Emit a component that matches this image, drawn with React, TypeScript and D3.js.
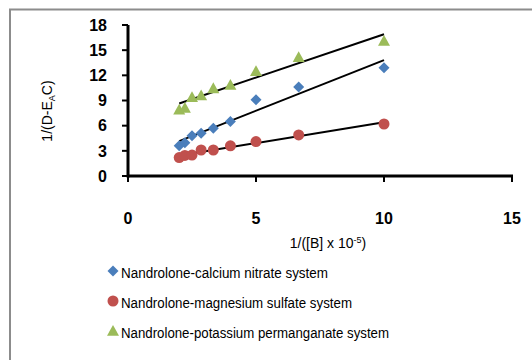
import React from "react";
import * as d3 from "d3";

const xValues = [2, 2.222, 2.5, 2.857, 3.333, 4, 5, 6.667, 10];
const calciumY = [3.6, 3.95, 4.8, 5.1, 5.7, 6.5, 9.1, 10.6, 12.9];
const magnesiumY = [2.2, 2.45, 2.5, 3.1, 3.1, 3.6, 4.1, 4.9, 6.2];
const permanganateY = [7.9, 8.1, 9.4, 9.6, 10.45, 10.85, 12.5, 14.15, 16.1];
const xTicks = [0, 5, 10, 15];
const yTicks = [0, 3, 6, 9, 12, 15, 18];
const seriesNames = [
  "Nandrolone-calcium nitrate system",
  "Nandrolone-magnesium sulfate system",
  "Nandrolone-potassium permanganate system",
];
const legendWidths = [207, 231, 268];
const seriesColors = ["#4a7ebb", "#c0504d", "#9bbb59"];

function regression(xs: number[], ys: number[]) {
  const mx = d3.mean(xs)!;
  const my = d3.mean(ys)!;
  let sxy = 0, sxx = 0;
  xs.forEach((x, i) => { sxy += (x - mx) * (ys[i] - my); sxx += (x - mx) ** 2; });
  const b = sxy / sxx;
  return (x: number) => my + b * (x - mx);
}

function Marker({ kind, x, y, color }: { kind: number; x: number; y: number; color: string }) {
  if (kind === 0) {
    const s = 5.5;
    return <path d={`M${x},${y - s}L${x + s},${y}L${x},${y + s}L${x - s},${y}Z`} fill={color} />;
  }
  if (kind === 1) return <circle cx={x} cy={y} r={5.5} fill={color} />;
  const s = 6;
  return <path d={`M${x},${y - s}L${x + s},${y + s * 0.8}L${x - s},${y + s * 0.8}Z`} fill={color} />;
}

export default function App() {
  const x = d3.scaleLinear().domain([0, 15]).range([128, 512]);
  const y = d3.scaleLinear().domain([0, 18]).range([176, 25]);
  const series = [calciumY, magnesiumY, permanganateY];
  const font = "'Liberation Sans', Arial, sans-serif";
  return (
    <svg width={532} height={360} style={{ position: "absolute", left: 0, top: 0 }} fontFamily={font}>
      <rect x={0} y={0} width={532} height={360} fill="#fff" />
      <path d="M10,360V9.5H532" fill="none" stroke="#8c8c8c" strokeWidth={2} />
      {series.map((ys, si) => {
        const f = regression(xValues, ys);
        const x0 = d3.min(xValues)!, x1 = d3.max(xValues)!;
        return (
          <line key={"t" + si} x1={x(x0)} y1={y(f(x0))} x2={x(x1)} y2={y(f(x1))} stroke="#000" strokeWidth={2} />
        );
      })}
      {series.map((ys, si) =>
        ys.map((v, i) => <Marker key={si + "-" + i} kind={si} x={x(xValues[i])} y={y(v)} color={seriesColors[si]} />)
      )}
      <line x1={x(0)} y1={y(0)} x2={x(15) + 1} y2={y(0)} stroke="#000" strokeWidth={3} />
      <line x1={x(0)} y1={y(0) + 1.5} x2={x(0)} y2={y(18)} stroke="#000" strokeWidth={3} />
      {yTicks.map((t) => (
        <g key={"y" + t}>
          <line x1={x(0) - 6} x2={x(0)} y1={y(t)} y2={y(t)} stroke="#000" strokeWidth={2} />
          <text x={x(0) - 21} y={y(t)} dy="0.36em" textAnchor="end" fontSize={16} fontWeight="bold">{t}</text>
        </g>
      ))}
      {xTicks.map((t) => (
        <g key={"x" + t}>
          <line x1={x(t)} x2={x(t)} y1={y(0)} y2={y(0) + 6} stroke="#000" strokeWidth={2} />
          <text x={x(t)} y={224} textAnchor="middle" fontSize={16} fontWeight="bold">{t}</text>
        </g>
      ))}
      <text transform="translate(52,111) rotate(-90)" textAnchor="middle" fontSize={14}>
        1/(D-E<tspan fontSize={9} dy={3}>A</tspan><tspan dy={-3}>C)</tspan>
      </text>
      <text x={328} y={248} textAnchor="middle" fontSize={14}>
        1/([B] x 10<tspan fontSize={9} dy={-5}>-5</tspan><tspan dy={5}>)</tspan>
      </text>
      {seriesNames.map((n, i) => {
        const ly = 273 + i * 30;
        return (
          <g key={"l" + i}>
            <Marker kind={i} x={113} y={ly - 2} color={seriesColors[i]} />
            <text x={121} y={ly + 5} fontSize={14} textLength={legendWidths[i]} lengthAdjust="spacingAndGlyphs">{n}</text>
          </g>
        );
      })}
    </svg>
  );
}
